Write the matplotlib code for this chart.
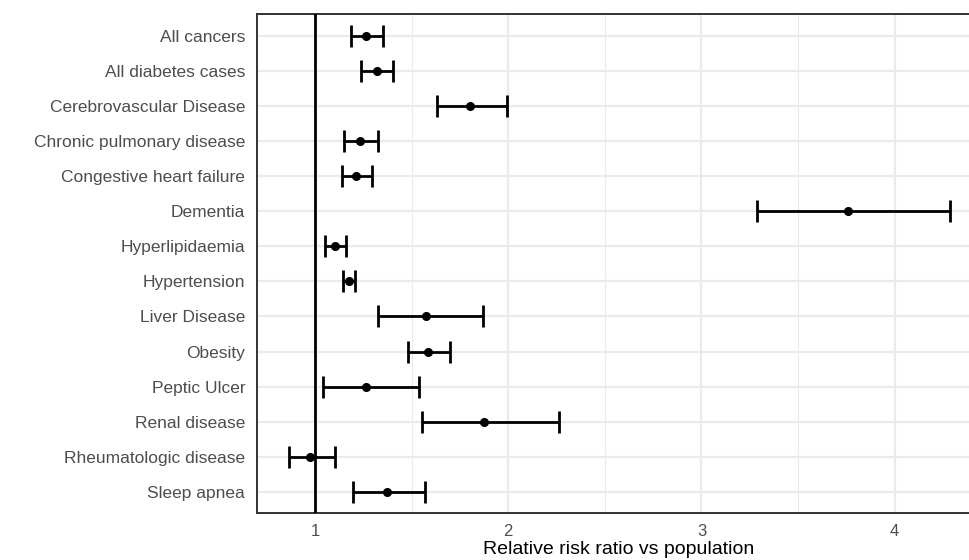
import matplotlib
matplotlib.use("Agg")
import matplotlib.pyplot as plt
from matplotlib.ticker import MultipleLocator

plt.rcParams["font.family"] = ["Liberation Sans", "DejaVu Sans"]

conditions = [
    "All cancers", "All diabetes cases", "Cerebrovascular Disease",
    "Chronic pulmonary disease", "Congestive heart failure", "Dementia",
    "Hyperlipidaemia", "Hypertension", "Liver Disease", "Obesity",
    "Peptic Ulcer", "Renal disease", "Rheumatologic disease", "Sleep apnea",
]
rr = [1.264, 1.320, 1.800, 1.233, 1.212, 3.758, 1.104, 1.178,
      1.572, 1.584, 1.264, 1.876, 0.974, 1.371]
lower = [1.185, 1.238, 1.634, 1.150, 1.138, 3.288, 1.052, 1.147,
         1.325, 1.480, 1.043, 1.556, 0.867, 1.195]
upper = [1.354, 1.406, 1.993, 1.328, 1.294, 4.287, 1.161, 1.207,
         1.869, 1.699, 1.540, 2.261, 1.104, 1.570]

fig = plt.figure(figsize=(9.7, 5.6), dpi=100)
ax = fig.add_axes([257 / 970, 1 - 513 / 560, 1.01 - 257 / 970, (513 - 14) / 560])

ypos = list(range(len(conditions)))
xerr = [[r - l for r, l in zip(rr, lower)], [u - r for u, r in zip(upper, rr)]]
ax.errorbar(rr, ypos, xerr=xerr, fmt="o", color="black", ms=5.5,
            elinewidth=2, capsize=8, capthick=2, zorder=4)
ax.axvline(1, color="black", lw=2, zorder=3)

ax.set_xlim(0.70, 4.44)
ax.set_ylim(len(conditions) - 0.4, -0.62)
ax.set_yticks(ypos)
ax.set_yticklabels(conditions)
ax.xaxis.set_major_locator(MultipleLocator(1))
ax.xaxis.set_minor_locator(MultipleLocator(0.5))

ax.grid(which="major", color="#ebebeb", lw=1.6, zorder=0)
ax.grid(which="minor", axis="x", color="#ebebeb", lw=0.8, zorder=0)
ax.set_axisbelow(True)
ax.tick_params(which="both", length=0)
ax.tick_params(axis="both", labelsize=12.5, labelcolor="#4d4d4d")
ax.tick_params(axis="y", pad=8.5)
ax.tick_params(axis="x", labelsize=12, pad=8)
for s in ax.spines.values():
    s.set_color("#333333")
    s.set_linewidth(1.4)

ax.set_xlabel("Relative risk ratio vs population", fontsize=14, color="black", labelpad=1)

fig.savefig("out.png", dpi=100)
